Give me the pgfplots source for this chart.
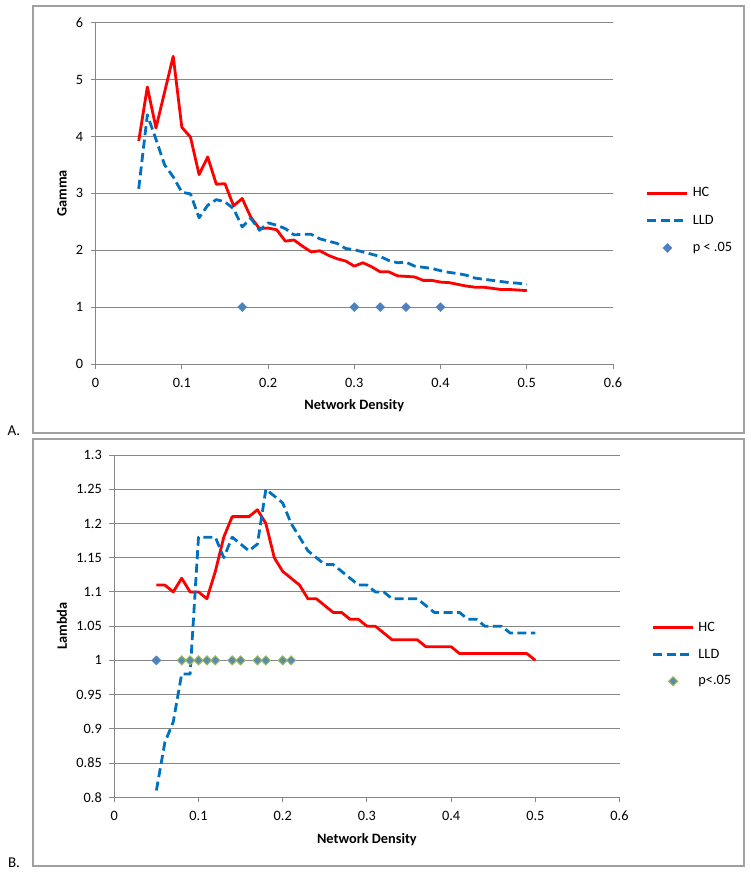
\documentclass[border=0pt]{standalone}
\usepackage{fontspec}
\setmainfont{Carlito}
\usepackage{pgfplots}
\usepackage{pgfplotstable}
\pgfplotsset{compat=1.18}
\definecolor{hcred}{HTML}{FF0000}
\definecolor{lldblue}{HTML}{0070C0}
\definecolor{dia}{HTML}{4F81BD}
\definecolor{diaedge}{HTML}{9BBB59}
\definecolor{gridc}{HTML}{878787}
\definecolor{framec}{HTML}{A0A0A0}

\pgfplotstableread{
x g_hc g_lld
0.05 3.92 3.08
0.06 4.87 4.38
0.07 4.15 3.95
0.08 4.78 3.50
0.09 5.41 3.29
0.10 4.16 3.02
0.11 3.99 2.99
0.12 3.33 2.57
0.13 3.64 2.79
0.14 3.16 2.89
0.15 3.17 2.85
0.16 2.78 2.73
0.17 2.91 2.41
0.18 2.58 2.56
0.19 2.38 2.35
0.20 2.39 2.48
0.21 2.36 2.44
0.22 2.16 2.38
0.23 2.18 2.27
0.24 2.07 2.28
0.25 1.97 2.28
0.26 1.99 2.20
0.27 1.91 2.16
0.28 1.85 2.12
0.29 1.81 2.03
0.30 1.72 2.01
0.31 1.78 1.97
0.32 1.71 1.93
0.33 1.62 1.89
0.34 1.62 1.82
0.35 1.55 1.78
0.36 1.54 1.79
0.37 1.53 1.72
0.38 1.47 1.70
0.39 1.47 1.68
0.40 1.44 1.64
0.41 1.43 1.61
0.42 1.40 1.59
0.43 1.37 1.56
0.44 1.35 1.51
0.45 1.35 1.49
0.46 1.33 1.47
0.47 1.31 1.45
0.48 1.31 1.43
0.49 1.30 1.42
0.50 1.29 1.40
}\gammatable

\pgfplotstableread{
x l_hc l_lld
0.05 1.11 0.81
0.06 1.11 0.88
0.07 1.10 0.91
0.08 1.12 0.98
0.09 1.10 0.98
0.10 1.10 1.18
0.11 1.09 1.18
0.12 1.13 1.18
0.13 1.18 1.15
0.14 1.21 1.18
0.15 1.21 1.17
0.16 1.21 1.16
0.17 1.22 1.17
0.18 1.20 1.25
0.19 1.15 1.24
0.20 1.13 1.23
0.21 1.12 1.20
0.22 1.11 1.18
0.23 1.09 1.16
0.24 1.09 1.15
0.25 1.08 1.14
0.26 1.07 1.14
0.27 1.07 1.13
0.28 1.06 1.12
0.29 1.06 1.11
0.30 1.05 1.11
0.31 1.05 1.10
0.32 1.04 1.10
0.33 1.03 1.09
0.34 1.03 1.09
0.35 1.03 1.09
0.36 1.03 1.09
0.37 1.02 1.08
0.38 1.02 1.07
0.39 1.02 1.07
0.40 1.02 1.07
0.41 1.01 1.07
0.42 1.01 1.06
0.43 1.01 1.06
0.44 1.01 1.05
0.45 1.01 1.05
0.46 1.01 1.05
0.47 1.01 1.04
0.48 1.01 1.04
0.49 1.01 1.04
0.50 1.00 1.04
}\lambdatable

\pgfplotsset{
  legend image code/.code={\draw[#1] (0pt,0pt) -- (40pt,0pt);},
  marklegend/.style={legend image code/.code={\draw[mark repeat=2,mark phase=2,##1] plot coordinates {(0pt,0pt) (20pt,0pt) (40pt,0pt)};}},
  hcstyle/.style={draw=hcred, line width=2.8pt, line join=round, no marks},
  lldstyle/.style={draw=lldblue, line width=2.8pt, line join=round, no marks, dash pattern=on 9pt off 4.5pt},
  myaxis/.style={
    scale only axis,
    clip=false,
    axis lines=left,
    axis line style={draw=gridc, line width=0.9pt, -},
    ymajorgrids,
    grid style={draw=gridc, line width=0.9pt},
    tick align=outside,
    major tick length=5pt,
    tick style={draw=gridc, line width=0.9pt},
    xmin=0, xmax=0.6,
    xtick={0,0.1,0.2,0.3,0.4,0.5,0.6},
    xticklabels={0,0.1,0.2,0.3,0.4,0.5,0.6},
    /pgf/number format/assume math mode=true,
    tick label style={font=\fontsize{14.3}{16}\selectfont},
    yticklabel style={xshift=-4pt},
    xticklabel style={yshift=-5.5pt},
    label style={font=\bfseries\fontsize{14.3}{16}\selectfont},
    xlabel={Network Density},
    xlabel style={at={(axis description cs:0.5,0)}, anchor=center, yshift=-42pt},
    legend style={draw=none, fill=none, font=\fontsize{14.3}{16}\selectfont,
      inner sep=0pt, outer sep=0pt, anchor=north west,
      column sep=4pt,
      nodes={inner sep=0pt, text height=10pt, text depth=3pt}},
    legend cell align=left,
  },
}

\begin{document}
\begin{tikzpicture}
\useasboundingbox (0pt,0pt) rectangle (751pt,875pt);
\draw[framec, line width=1.2pt] (33pt,442pt) rectangle (744pt,869pt);
\draw[framec, line width=1.2pt] (33pt,9pt) rectangle (744pt,436pt);
\node[font=\fontsize{15}{17}\selectfont] at (14pt,444pt) {A.};
\node[font=\fontsize{15}{17}\selectfont] at (14pt,12pt) {B.};

\begin{axis}[myaxis,
  at={(95.6pt,511pt)}, anchor=south west,
  width=517.4pt, height=341.3pt,
  ymin=0, ymax=6, ytick={0,1,2,3,4,5,6},
  legend style={at={(axis description cs:1.0638,0.519)}, row sep=14.3pt},
]
\node[rotate=90, anchor=center, font=\bfseries\fontsize{14.3}{16}\selectfont] at (axis description cs:-0.0649,0.5) {Gamma};
\addplot[hcstyle] table[x=x, y=g_hc] {\gammatable};
\addlegendentry{HC}
\addplot[lldstyle] table[x=x, y=g_lld] {\gammatable};
\addlegendentry{LLD}
\addplot[only marks, mark=square*, mark size=3.2pt, mark options={rotate=45, fill=dia, draw=dia}, marklegend]
  coordinates {(0.17,1) (0.30,1) (0.33,1) (0.36,1) (0.40,1)};
\addlegendentry{p < .05}
\end{axis}

\begin{axis}[myaxis,
  at={(114.3pt,77.7pt)}, anchor=south west,
  width=505.2pt, height=342.3pt,
  ymin=0.8, ymax=1.3,
  ytick={0.8,0.85,0.9,0.95,1,1.05,1.1,1.15,1.2,1.25,1.3},
  yticklabels={0.8,0.85,0.9,0.95,1,1.05,1.1,1.15,1.2,1.25,1.3},
  legend style={at={(axis description cs:1.0637,0.514)}, row sep=13.7pt},
]
\node[rotate=90, anchor=center, font=\bfseries\fontsize{14.3}{16}\selectfont] at (axis description cs:-0.1035,0.5) {Lambda};
\addplot[hcstyle] table[x=x, y=l_hc] {\lambdatable};
\addlegendentry{HC}
\addplot[lldstyle] table[x=x, y=l_lld] {\lambdatable};
\addlegendentry{LLD}
\addplot[only marks, mark=square*, mark size=3.2pt, mark options={rotate=45, fill=dia, draw=dia}, forget plot]
  coordinates {(0.05,1)};
\addplot[only marks, mark=square*, mark size=3.2pt, mark options={rotate=45, fill=dia!85!diaedge, draw=diaedge, line width=1pt}, marklegend]
  coordinates {(0.08,1) (0.09,1) (0.10,1) (0.11,1) (0.12,1) (0.14,1) (0.15,1) (0.17,1) (0.18,1) (0.20,1) (0.21,1)};
\addlegendentry{p<.05}
\end{axis}
\end{tikzpicture}
\end{document}
